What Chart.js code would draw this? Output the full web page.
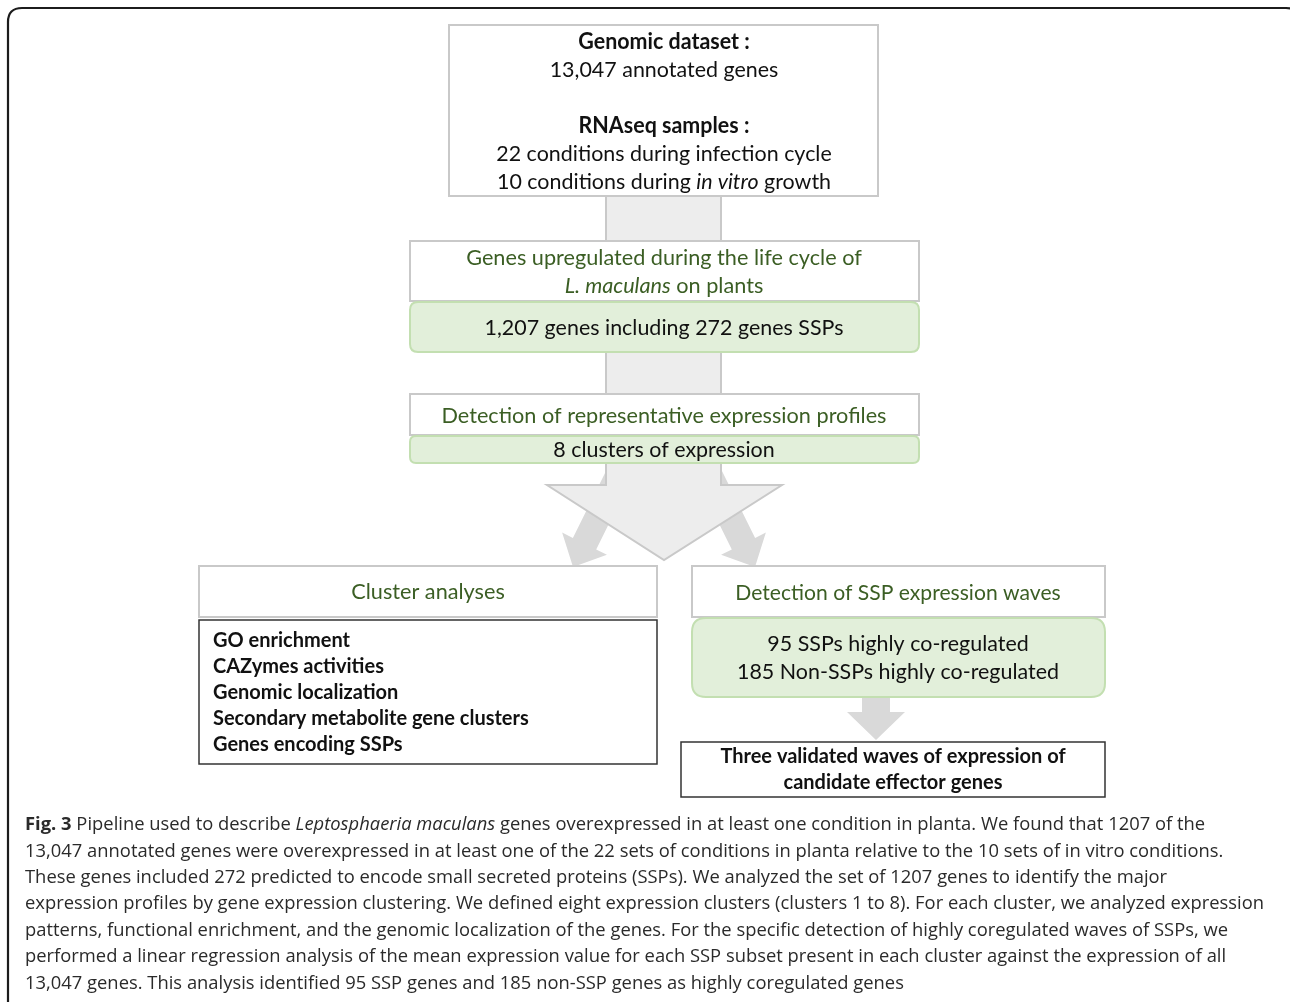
<!DOCTYPE html>
<html>
<head>
<meta charset="utf-8">
<script src="https://cdn.jsdelivr.net/npm/chart.js@4.4.1/dist/chart.umd.min.js"></script>
<style>
  html, body { margin: 0; padding: 0; background: #fff; }
  #wrap { width: 1290px; height: 1002px; position: relative; }
</style>
</head>
<body>
<div id="wrap"><canvas id="myChart"></canvas></div>
<script>
// text content of the pipeline (markup: **bold**, *italic*)
const inputLines = [
  '**Genomic dataset :**',
  '13,047 annotated genes',
  '',
  '**RNAseq samples :**',
  '22 conditions during infection cycle',
  '10 conditions during *in vitro* growth'
];
const upregTitle = ['Genes upregulated during the life cycle of', '*L. maculans* on plants'];
const upregCount = ['1,207 genes including 272 genes SSPs'];
const profileTitle = ['Detection of representative expression profiles'];
const profileCount = ['8 clusters of expression'];
const clusterTitle = ['Cluster analyses'];
const clusterItems = [
  'GO enrichment',
  'CAZymes activities',
  'Genomic localization',
  'Secondary metabolite gene clusters',
  'Genes encoding SSPs'
];
const waveTitle = ['Detection of SSP expression waves'];
const waveCounts = ['95 SSPs highly co-regulated', '185 Non-SSPs highly co-regulated'];
const waveResult = ['**Three validated waves of expression of**', '**candidate effector genes**'];
const captionLines = [
  '**Fig. 3** Pipeline used to describe *Leptosphaeria maculans* genes overexpressed in at least one condition in planta. We found that 1207 of the',
  '13,047 annotated genes were overexpressed in at least one of the 22 sets of conditions in planta relative to the 10 sets of in vitro conditions.',
  'These genes included 272 predicted to encode small secreted proteins (SSPs). We analyzed the set of 1207 genes to identify the major',
  'expression profiles by gene expression clustering. We defined eight expression clusters (clusters 1 to 8). For each cluster, we analyzed expression',
  'patterns, functional enrichment, and the genomic localization of the genes. For the specific detection of highly coregulated waves of SSPs, we',
  'performed a linear regression analysis of the mean expression value for each SSP subset present in each cluster against the expression of all',
  '13,047 genes. This analysis identified 95 SSP genes and 185 non-SSP genes as highly coregulated genes'
];

const GREEN_TEXT = '#3b5e24';
const GREEN_FILL = '#e2efda';
const GREEN_EDGE = '#c3dfb1';
const GREY_EDGE = '#c9c9c9';
const SHAFT_FILL = '#ededed';
const DIAG_FILL = '#d9d9d9';

function parseRich(s) {
  const parts = s.split(/(\*\*[^*]+\*\*|\*[^*]+\*)/).filter(p => p.length);
  return parts.map(p => {
    if (p.startsWith('**')) return { t: p.slice(2, -2), style: 'bold' };
    if (p.startsWith('*')) return { t: p.slice(1, -1), style: 'italic' };
    return { t: p, style: '' };
  });
}

function fontFor(style, size, family) {
  if (style === 'bold') return 'bold ' + size + 'px ' + family;
  if (style === 'italic') return 'italic ' + size + 'px ' + family;
  return size + 'px ' + family;
}

function richWidth(ctx, segs, size, family) {
  let w = 0;
  segs.forEach(s => { ctx.font = fontFor(s.style, size, family); w += ctx.measureText(s.t).width; });
  return w;
}

// draw a line of rich text; align 'center' or 'left'; sx = horizontal stretch
function drawRich(ctx, str, x, y, opt) {
  const segs = parseRich(str);
  const sx = opt.sx || 1;
  const w = richWidth(ctx, segs, opt.size, opt.family) * sx;
  let cx = opt.align === 'left' ? x : x - w / 2;
  ctx.save();
  ctx.fillStyle = opt.color || '#111';
  ctx.textBaseline = 'middle';
  ctx.textAlign = 'left';
  segs.forEach(s => {
    ctx.font = fontFor(s.style, opt.size, opt.family);
    const sw = ctx.measureText(s.t).width;
    ctx.save();
    ctx.translate(cx, y);
    ctx.scale(sx, 1);
    ctx.fillText(s.t, 0, 0);
    ctx.restore();
    cx += sw * sx;
  });
  ctx.restore();
}

function roundRect(ctx, x, y, w, h, r) {
  ctx.beginPath();
  ctx.moveTo(x + r, y);
  ctx.lineTo(x + w - r, y);
  ctx.quadraticCurveTo(x + w, y, x + w, y + r);
  ctx.lineTo(x + w, y + h - r);
  ctx.quadraticCurveTo(x + w, y + h, x + w - r, y + h);
  ctx.lineTo(x + r, y + h);
  ctx.quadraticCurveTo(x, y + h, x, y + h - r);
  ctx.lineTo(x, y + r);
  ctx.quadraticCurveTo(x, y, x + r, y);
  ctx.closePath();
}

const pipelinePlugin = {
  id: 'pipeline',
  afterDraw(chart) {
    const ctx = chart.ctx;
    const xs = chart.scales.x, ys = chart.scales.y;
    const X = v => xs.getPixelForValue(v);
    const Y = v => ys.getPixelForValue(v);

    function box(x0, y0, x1, y1, fill, edge, lw, r) {
      ctx.save();
      if (r) roundRect(ctx, X(x0), Y(y0), X(x1) - X(x0), Y(y1) - Y(y0), r);
      else { ctx.beginPath(); ctx.rect(X(x0), Y(y0), X(x1) - X(x0), Y(y1) - Y(y0)); }
      if (fill) { ctx.fillStyle = fill; ctx.fill(); }
      if (edge) { ctx.strokeStyle = edge; ctx.lineWidth = lw; ctx.stroke(); }
      ctx.restore();
    }
    function poly(pts, fill, edge, lw) {
      ctx.save();
      ctx.beginPath();
      pts.forEach((p, i) => i ? ctx.lineTo(X(p[0]), Y(p[1])) : ctx.moveTo(X(p[0]), Y(p[1])));
      ctx.closePath();
      ctx.fillStyle = fill; ctx.fill();
      if (edge) { ctx.strokeStyle = edge; ctx.lineWidth = lw; ctx.stroke(); }
      ctx.restore();
    }
    function diagArrow(x0, y0, x1, y1, sw, hw, hl, fill) {
      const dx = x1 - x0, dy = y1 - y0, L = Math.hypot(dx, dy);
      const ux = dx / L, uy = dy / L, nx = -uy, ny = ux;
      const bx = x1 - ux * hl, by = y1 - uy * hl;
      poly([
        [x0 + nx * sw / 2, y0 + ny * sw / 2],
        [bx + nx * sw / 2, by + ny * sw / 2],
        [bx + nx * hw / 2, by + ny * hw / 2],
        [x1, y1],
        [bx - nx * hw / 2, by - ny * hw / 2],
        [bx - nx * sw / 2, by - ny * sw / 2],
        [x0 - nx * sw / 2, y0 - ny * sw / 2]
      ], fill);
    }
    function lines(arr, cx, cy0, step, opt) {
      arr.forEach((s, i) => { if (s) drawRich(ctx, s, X(cx), Y(cy0 + i * step), opt); });
    }

    const F = 'Lato, "Noto Sans", sans-serif';
    const body = { size: 22, family: F, color: '#111', sx: 0.975 };
    const green = { size: 22, family: F, color: GREEN_TEXT, sx: 0.985 };

    // outer frame
    ctx.save();
    roundRect(ctx, X(8), Y(8), X(1300) - X(8), Y(1030) - Y(8), 14);
    ctx.strokeStyle = '#1c1c1c'; ctx.lineWidth = 2.2; ctx.stroke();
    ctx.restore();

    // shafts between top boxes
    box(606, 196, 721, 241, SHAFT_FILL, GREY_EDGE, 2);
    box(606, 351, 721, 395, SHAFT_FILL, GREY_EDGE, 2);

    // diagonal split arrows (behind the big arrow)
    diagArrow(622, 468, 573, 567, 26, 50, 26, DIAG_FILL);
    diagArrow(706, 468, 755, 567, 26, 50, 26, DIAG_FILL);

    // big down arrow
    poly([[606, 462], [721, 462], [721, 485], [782, 485], [664, 560], [547, 485], [606, 485]],
      SHAFT_FILL, GREY_EDGE, 2);

    // input box
    box(449, 25, 878, 196, '#fff', GREY_EDGE, 2);
    lines(inputLines, 664, 42, 28, body);

    // up-regulated genes
    box(410, 241, 919, 301, '#fff', GREY_EDGE, 2);
    lines(upregTitle, 664, 258, 28, green);
    box(410, 302, 919, 352, GREEN_FILL, GREEN_EDGE, 2, 8);
    lines(upregCount, 664, 328, 28, body);

    // expression profiles
    box(410, 394, 919, 435, '#fff', GREY_EDGE, 2);
    lines(profileTitle, 664, 416, 28, green);
    box(410, 436, 919, 463, GREEN_FILL, GREEN_EDGE, 2, 6);
    lines(profileCount, 664, 450, 28, body);

    // cluster analyses
    box(199, 566, 657, 617, '#fff', GREY_EDGE, 2);
    lines(clusterTitle, 428, 592, 28, green);
    box(199, 620, 657, 764, '#fff', '#333', 1.5);
    clusterItems.forEach((s, i) =>
      drawRich(ctx, '**' + s + '**', X(213), Y(641 + i * 25.8), { size: 20, family: F, color: '#111', sx: 1.0, align: 'left' }));

    // SSP waves
    box(692, 566, 1105, 617, '#fff', GREY_EDGE, 2);
    lines(waveTitle, 898, 593, 28, { size: 22, family: F, color: GREEN_TEXT, sx: 0.96 });
    // small arrow
    poly([[862, 696], [890, 696], [890, 712], [905, 712], [876, 740], [847, 712], [862, 712]], DIAG_FILL);
    box(692, 618, 1105, 697, GREEN_FILL, GREEN_EDGE, 2, 14);
    lines(waveCounts, 898, 644, 28, body);
    box(681, 742, 1105, 797, '#fff', '#333', 1.5);
    lines(waveResult, 893, 757, 26, { size: 20, family: F, color: '#111', sx: 1.0 });

    // caption
    const CF = '"Open Sans", "Noto Sans", sans-serif';
    const csize = 18;
    const ref = richWidth(ctx, parseRich(captionLines[3]), csize, CF);
    const csx = (1264 - 25) / ref;
    captionLines.forEach((s, i) =>
      drawRich(ctx, s, X(25), Y(825 + i * 26.4), { size: csize, family: CF, color: '#2a2a2a', sx: csx, align: 'left' }));
  }
};

const ctxEl = document.getElementById('myChart').getContext('2d');
const pipelineChart = new Chart(ctxEl, {
  type: 'scatter',
  data: { datasets: [{ data: [] }] },
  options: {
    responsive: true,
    maintainAspectRatio: false,
    animation: false,
    layout: { padding: 0 },
    plugins: { legend: { display: false }, tooltip: { enabled: false } },
    scales: {
      x: { type: 'linear', min: 0, max: 1290, display: false },
      y: { type: 'linear', min: 0, max: 1002, reverse: true, display: false }
    }
  },
  plugins: [pipelinePlugin]
});
</script>
</body>
</html>
